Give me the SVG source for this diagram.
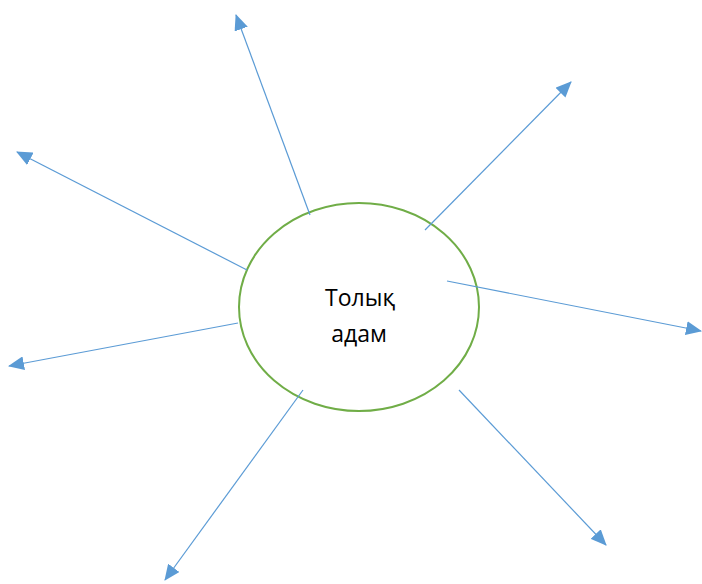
<svg xmlns="http://www.w3.org/2000/svg" width="702" height="584" viewBox="0 0 702 584">
<style>
.c{stroke:#5B9BD5;stroke-width:1.2;fill:none;marker-end:url(#ah)}
.t{font-family:"Open Sans","Liberation Sans",sans-serif;font-size:23px;fill:#000;text-anchor:middle}
</style>
<defs>
<marker id="ah" markerUnits="userSpaceOnUse" markerWidth="16" markerHeight="14" viewBox="0 0 16 14" refX="15" refY="7" orient="auto">
<path d="M0,0 L16,7 L0,14 Z" fill="#5B9BD5"/>
</marker>
</defs>
<rect width="702" height="584" fill="#fff"/>
<g id="center">
<ellipse cx="359" cy="307" rx="120" ry="104" fill="none" stroke="#70AD47" stroke-width="2"/>
<text class="t" x="360" y="306">Толық</text>
<text class="t" x="359" y="342">адам</text>
</g>
<g id="connectors">
<line class="c" x1="310" y1="215" x2="236" y2="15"/>
<line class="c" x1="247" y1="270" x2="17" y2="152"/>
<line class="c" x1="425" y1="230" x2="571" y2="82"/>
<line class="c" x1="447" y1="281" x2="701" y2="331"/>
<line class="c" x1="238" y1="323" x2="9" y2="366"/>
<line class="c" x1="303" y1="390" x2="165" y2="580"/>
<line class="c" x1="459" y1="390" x2="606" y2="545"/>
</g>
</svg>
